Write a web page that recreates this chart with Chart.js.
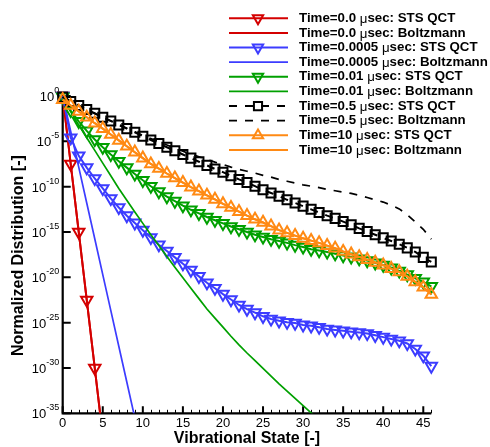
<!DOCTYPE html>
<html>
<head>
<meta charset="utf-8">
<title>Vibrational state distribution</title>
<script src="https://cdn.jsdelivr.net/npm/chart.js@4.4.1/dist/chart.umd.min.js"></script>
<style>
  html, body { margin: 0; padding: 0; background: #fff; }
  #wrap { width: 490px; height: 447px; }
</style>
</head>
<body>
<div id="wrap"><canvas id="chart" width="490" height="447"></canvas></div>
<script>
// log10 of the normalized population, index = vibrational level v
const redQct = [0, -7.5, -15.0, -22.5, -30.0, -37.5];
const redBoltz = [0, -7.5, -15.0, -22.5, -30.0, -37.5];

const blueQct = [0, -4.6, -6.6, -7.9, -9.1, -10.2, -11.3, -12.3, -13.2, -14.0,
  -14.8, -15.6, -16.4, -17.1, -17.8, -18.5, -19.2, -19.9, -20.6, -21.2,
  -21.85, -22.45, -23.05, -23.5, -23.9, -24.3, -24.6, -24.8, -24.95, -25.05,
  -25.25, -25.35, -25.5, -25.7, -25.8, -25.9, -26.0, -26.1, -26.2, -26.4,
  -26.6, -26.8, -27.0, -27.3, -27.9, -28.65, -29.8];
const blueBoltz = [0, -3.9, -7.85, -11.8, -15.75, -19.7, -23.65, -27.6, -31.55, -35.5];

const greenQct = [-0.1, -1.6, -2.8, -3.85, -4.8, -5.65, -6.45, -7.2, -7.9, -8.6,
  -9.3, -9.95, -10.55, -11.1, -11.6, -12.1, -12.55, -12.95, -13.35, -13.7,
  -14.05, -14.4, -14.7, -15.0, -15.3, -15.55, -15.8, -16.0, -16.2, -16.45,
  -16.65, -16.9, -17.05, -17.2, -17.4, -17.6, -17.75, -17.95, -18.15, -18.4,
  -18.65, -18.95, -19.3, -19.7, -20.1, -20.5, -21.0];
const greenBoltz = [-0.3, -1.75, -3.2, -4.6, -6.0, -7.4, -8.8, -10.2, -11.5, -12.8,
  -14.05, -15.3, -16.5, -17.7, -18.9, -20.05, -21.2, -22.35, -23.5, -24.5,
  -25.5, -26.5, -27.45, -28.35, -29.2, -30.05, -30.9, -31.75, -32.55, -33.35,
  -34.15, -34.95, -35.75];

const blackQct = [-0.1, -0.6, -1.05, -1.5, -1.9, -2.35, -2.75, -3.2, -3.6, -4.0,
  -4.45, -4.85, -5.25, -5.65, -6.05, -6.45, -6.85, -7.25, -7.65, -8.05,
  -8.4, -8.8, -9.2, -9.55, -9.95, -10.35, -10.7, -11.05, -11.45, -11.8,
  -12.15, -12.5, -12.85, -13.2, -13.5, -13.85, -14.2, -14.6, -14.95, -15.3,
  -15.65, -16.0, -16.35, -16.75, -17.2, -17.8, -18.3];
const blackBoltz = [-0.1, -0.6, -1.05, -1.5, -1.95, -2.35, -2.75, -3.15, -3.55, -3.95,
  -4.35, -4.7, -5.05, -5.4, -5.75, -6.1, -6.4, -6.7, -7.0, -7.3,
  -7.55, -7.85, -8.1, -8.3, -8.5, -8.75, -8.95, -9.2, -9.4, -9.6,
  -9.8, -9.95, -10.1, -10.3, -10.45, -10.6, -10.75, -10.95, -11.2, -11.45,
  -11.7, -12.05, -12.45, -13.1, -13.9, -14.7, -15.8];

const orangeQct = [-0.4, -1.05, -1.7, -2.35, -3.0, -3.6, -4.25, -4.9, -5.55, -6.2,
  -6.85, -7.5, -8.0, -8.55, -9.05, -9.55, -10.05, -10.5, -10.95, -11.4,
  -11.9, -12.3, -12.75, -13.2, -13.6, -13.95, -14.35, -14.8, -15.1, -15.4,
  -15.7, -15.95, -16.2, -16.5, -16.8, -17.15, -17.45, -17.75, -18.05, -18.35,
  -18.65, -19.05, -19.4, -19.9, -20.5, -21.1, -21.9];
const orangeBoltz = [-0.4, -1.05, -1.7, -2.35, -3.0, -3.6, -4.25, -4.9, -5.55, -6.2,
  -6.85, -7.5, -8.0, -8.55, -9.05, -9.55, -10.05, -10.5, -10.95, -11.4,
  -11.9, -12.3, -12.75, -13.2, -13.6, -13.95, -14.35, -14.8, -15.1, -15.4,
  -15.7, -15.95, -16.2, -16.5, -16.8, -17.15, -17.45, -17.75, -18.05, -18.35,
  -18.65, -19.05, -19.4, -19.9, -20.5, -21.1, -21.9];

const xTicks = [0, 5, 10, 15, 20, 25, 30, 35, 40, 45];
const yTickExps = [0, -5, -10, -15, -20, -25, -30, -35];

const FONT = "'Liberation Sans', Arial, Helvetica, sans-serif";
const COLORS = {
  red: "#d40000",
  blue: "#3c3cff",
  green: "#00a000",
  black: "#000000",
  orange: "#ff8a14"
};

function series(label, exps, color, opts = {}) {
  const marker = opts.marker || null;
  return {
    label,
    data: exps.map((e, v) => ({ x: v, y: Math.pow(10, e) })),
    borderColor: color,
    backgroundColor: color,
    borderWidth: opts.width || 1.7,
    borderDash: opts.dash || [],
    pointStyle: marker || "circle",
    pointRotation: opts.rotation || 0,
    pointRadius: marker ? (opts.size || 6.6) : 0,
    pointHoverRadius: 0,
    pointBorderWidth: 2,
    pointBorderColor: color,
    pointBackgroundColor: "rgba(0,0,0,0)",
    tension: 0,
    clip: { left: 9, top: 9, right: 9, bottom: 0 }
  };
}

const datasets = [
  series("Time=0.0 μsec: STS QCT", redQct, COLORS.red, { marker: "triangle", rotation: 180, width: 2 }),
  series("Time=0.0 μsec: Boltzmann", redBoltz, COLORS.red, { width: 2 }),
  series("Time=0.0005 μsec: STS QCT", blueQct, COLORS.blue, { marker: "triangle", rotation: 180, width: 2 }),
  series("Time=0.0005 μsec: Boltzmann", blueBoltz, COLORS.blue),
  series("Time=0.01 μsec: STS QCT", greenQct, COLORS.green, { marker: "triangle", rotation: 180, width: 2 }),
  series("Time=0.01 μsec: Boltzmann", greenBoltz, COLORS.green),
  series("Time=0.5 μsec: STS QCT", blackQct, COLORS.black, { marker: "rect", dash: [8, 8], size: 6.4, width: 2 }),
  series("Time=0.5 μsec: Boltzmann", blackBoltz, COLORS.black, { dash: [8, 8] }),
  series("Time=10 μsec: STS QCT", orangeQct, COLORS.orange, { marker: "triangle", width: 2 }),
  series("Time=10 μsec: Boltzmann", orangeBoltz, COLORS.orange, { width: 2 })
];
// later entries are painted over earlier ones
datasets.forEach((ds, i) => { ds.order = datasets.length - i; });

// axis lines, inward ticks, tick labels and titles
const axisFrame = {
  id: "axisFrame",
  beforeDatasetsDraw(chart) {
    const { ctx, chartArea: a, scales: { x, y } } = chart;
    ctx.save();
    ctx.strokeStyle = "#000";
    ctx.fillStyle = "#000";

    ctx.lineWidth = 1;
    ctx.beginPath();
    for (let v = 0; v <= 46; v++) {
      if (v % 5 === 0) continue;
      const px = Math.round(x.getPixelForValue(v)) + 0.5;
      ctx.moveTo(px, a.bottom);
      ctx.lineTo(px, a.bottom - 3.5);
    }
    ctx.stroke();

    ctx.lineWidth = 2;
    ctx.beginPath();
    xTicks.forEach((t) => {
      const px = x.getPixelForValue(t);
      ctx.moveTo(px, a.bottom);
      ctx.lineTo(px, a.bottom - 7);
    });
    yTickExps.forEach((e) => {
      const py = y.getPixelForValue(Math.pow(10, e));
      ctx.moveTo(a.left, py);
      ctx.lineTo(a.left + 8, py);
    });
    ctx.stroke();

    ctx.lineWidth = 2.2;
    ctx.beginPath();
    ctx.moveTo(a.left, a.top - 3);
    ctx.lineTo(a.left, a.bottom);
    ctx.lineTo(a.right, a.bottom);
    ctx.stroke();

    ctx.textBaseline = "middle";
    ctx.font = `13px ${FONT}`;
    ctx.textAlign = "center";
    xTicks.forEach((t) => {
      ctx.fillText(String(t), x.getPixelForValue(t), a.bottom + 10);
    });

    ctx.textAlign = "right";
    yTickExps.forEach((e) => {
      const py = y.getPixelForValue(Math.pow(10, e));
      const right = a.left - 3.5;
      ctx.font = `9px ${FONT}`;
      const sup = String(e);
      const supW = ctx.measureText(sup).width;
      ctx.fillText(sup, right, py - 5.5);
      ctx.font = `13px ${FONT}`;
      ctx.fillText("10", right - supW, py + 1.3);
    });

    ctx.font = `bold 16px ${FONT}`;
    ctx.textAlign = "center";
    ctx.fillText("Vibrational State [-]", (a.left + a.right) / 2, a.bottom + 25);
    ctx.translate(19, (a.top + a.bottom) / 2 + 1);
    ctx.rotate(-Math.PI / 2);
    ctx.fillText("Normalized Distribution [-]", 0, 0);
    ctx.restore();
  }
};

// legend drawn from the datasets: line sample, marker, label
const legendBox = {
  id: "legendBox",
  afterDraw(chart) {
    const ctx = chart.ctx;
    const x0 = 229, x1 = 288, xm = 258, xt = 299;
    const size = 13.3;
    ctx.save();
    chart.data.datasets.forEach((ds, i) => {
      const y = 18.3 + i * 14.63;
      ctx.strokeStyle = ds.borderColor;
      ctx.lineWidth = ds.borderWidth;
      ctx.setLineDash(ds.borderDash);
      ctx.beginPath();
      ctx.moveTo(x0, y);
      ctx.lineTo(x1, y);
      ctx.stroke();
      ctx.setLineDash([]);
      if (ds.pointRadius > 0) {
        ctx.lineWidth = ds.pointBorderWidth;
        ctx.fillStyle = "rgba(0,0,0,0)";
        Chart.helpers.drawPoint(ctx, {
          pointStyle: ds.pointStyle,
          rotation: ds.pointRotation,
          radius: ds.pointRadius * 0.9,
          borderWidth: ds.pointBorderWidth
        }, xm, y);
      }
      // the mu is set in a lighter face than the rest of the label
      ctx.fillStyle = "#000";
      ctx.textAlign = "left";
      ctx.textBaseline = "middle";
      const [head, tail] = ds.label.split("μ");
      let tx = xt;
      ctx.font = `bold ${size}px ${FONT}`;
      ctx.fillText(head, tx, y);
      tx += ctx.measureText(head).width;
      ctx.font = `${size}px ${FONT}`;
      ctx.fillText("μ", tx, y + 1);
      tx += ctx.measureText("μ").width;
      ctx.font = `bold ${size}px ${FONT}`;
      ctx.fillText(tail, tx, y);
    });
    ctx.restore();
  }
};

new Chart(document.getElementById("chart"), {
  type: "line",
  data: { datasets },
  options: {
    responsive: false,
    animation: false,
    events: [],
    layout: { padding: { left: 62.7, top: 96, right: 58.7, bottom: 33.7 } },
    plugins: {
      legend: { display: false },
      tooltip: { enabled: false }
    },
    scales: {
      x: { type: "linear", min: 0, max: 46, display: false },
      y: { type: "logarithmic", min: 1e-35, max: 1, display: false }
    }
  },
  plugins: [axisFrame, legendBox]
});
</script>
</body>
</html>
